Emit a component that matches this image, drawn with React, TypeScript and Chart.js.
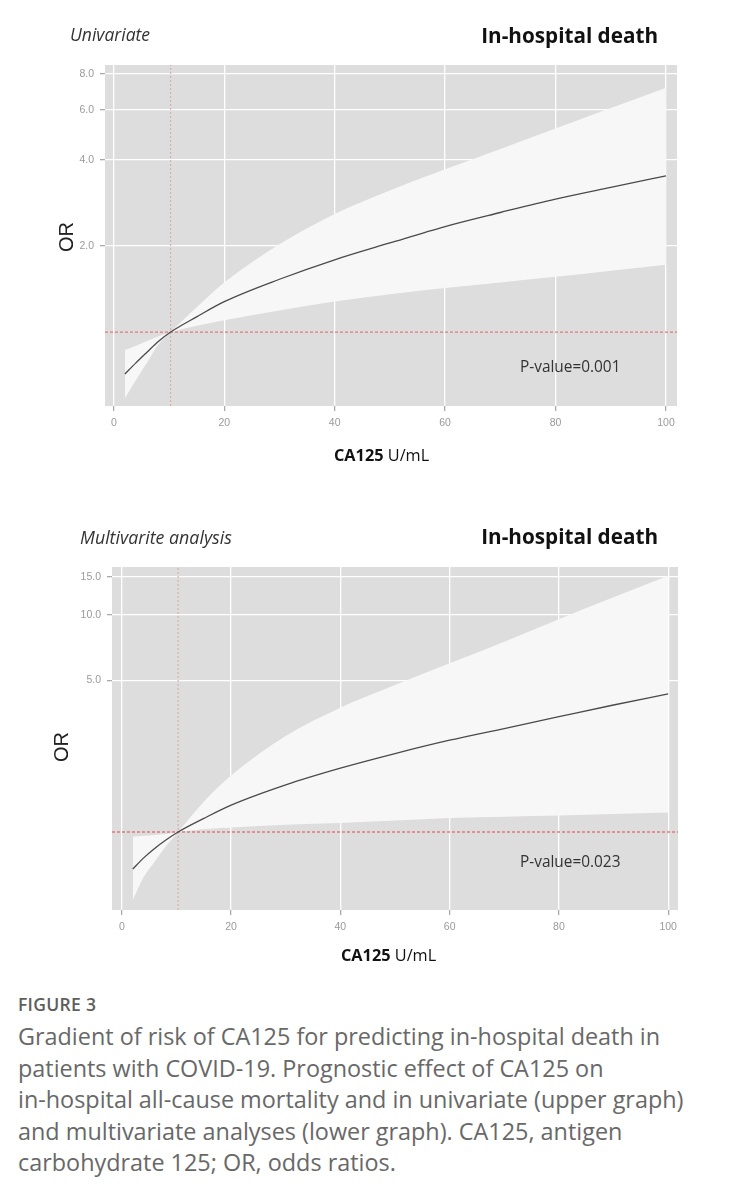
import React, { useEffect, useRef } from "react";
import { Chart, registerables } from "chart.js";

Chart.register(...registerables);

// ---- data ----
const ca125 = [2, 4, 6, 8, 10.3, 15, 20, 30, 40, 50, 60, 70, 80, 90, 100];

const uniOR = [0.713, 0.78, 0.85, 0.925, 1.0, 1.13, 1.277, 1.53, 1.79, 2.05, 2.34, 2.62, 2.92, 3.21, 3.52];
const uniUpper = [0.865, 0.895, 0.93, 0.965, 1.0, 1.22, 1.49, 2.03, 2.59, 3.13, 3.71, 4.37, 5.16, 6.08, 7.16];
const uniLower = [0.587, 0.68, 0.78, 0.9, 1.0, 1.051, 1.1, 1.19, 1.278, 1.357, 1.426, 1.492, 1.56, 1.64, 1.72];

const multiOR = [0.675, 0.76, 0.84, 0.916, 1.0, 1.155, 1.33, 1.65, 1.97, 2.3, 2.65, 3.0, 3.4, 3.85, 4.33];
const multiUpper = [0.95, 0.96, 0.97, 0.98, 1.0, 1.38, 1.82, 2.77, 3.74, 4.76, 5.99, 7.54, 9.58, 12.07, 15.18];
const multiLower = [0.486, 0.62, 0.73, 0.855, 1.0, 1.03, 1.05, 1.08, 1.1, 1.13, 1.16, 1.175, 1.19, 1.21, 1.23];

const xTicks = [0, 20, 40, 60, 80, 100];
const uniYTicks = [2, 4, 6, 8];
const multiYTicks = [5, 10, 15];

const REF_CA125 = 10.3;
const REF_OR = 1;

const TITLE_LEFT_UNI = "Univariate";
const TITLE_LEFT_MULTI = "Multivarite analysis";
const TITLE_RIGHT = "In-hospital death";
const P_UNI = "P-value=0.001";
const P_MULTI = "P-value=0.023";

const W = 732;
const XAXIS_H = 30;

const panelBg = {
  id: "panelBg",
  beforeDraw(chart: any) {
    const { ctx, chartArea: a } = chart;
    ctx.save();
    ctx.fillStyle = "#dddddd";
    ctx.fillRect(a.left, a.top, a.right - a.left, a.bottom - a.top);
    ctx.restore();
  },
};

type Props = {
  or: number[];
  upper: number[];
  lower: number[];
  yTicks: number[];
  yMin: number;
  yMax: number;
  xMin: number;
  xMax: number;
  area: { left: number; top: number; right: number; bottom: number };
  height: number;
  top: number;
};

function SplineChart(p: Props) {
  const ref = useRef<HTMLCanvasElement | null>(null);
  useEffect(() => {
    if (!ref.current) return;
    const pts = (ys: number[]) => ca125.map((x, i) => ({ x, y: ys[i] }));
    // the confidence band pinches at the reference value: draw it in two pieces
    const k = ca125.indexOf(REF_CA125);
    const pre = (ys: number[]) => pts(ys).slice(0, k + 1);
    const post = (ys: number[]) => pts(ys).slice(k);
    const band = (data: any[], fill: any, order: number) => ({
      data,
      borderWidth: 0,
      pointRadius: 0,
      backgroundColor: "#f7f7f7",
      fill,
      cubicInterpolationMode: "monotone",
      order,
    });
    const tickFont = { family: "'Liberation Sans', Arial, sans-serif", size: 10.5 };
    const chart = new Chart(ref.current, {
      type: "line",
      data: {
        datasets: [
          band(pre(p.upper), "+1", 6),
          band(pre(p.lower), false, 6),
          band(post(p.upper), "+1", 5),
          band(post(p.lower), false, 5),
          {
            data: [
              { x: REF_CA125, y: p.yMin },
              { x: REF_CA125, y: p.yMax },
            ],
            borderColor: "#dba3a3",
            borderWidth: 1,
            borderDash: [2, 2],
            pointRadius: 0,
            fill: false,
            order: 3,
          },
          {
            data: [
              { x: p.xMin, y: REF_OR },
              { x: p.xMax, y: REF_OR },
            ],
            borderColor: "#e07a7a",
            borderWidth: 1.3,
            borderDash: [3, 2],
            pointRadius: 0,
            fill: false,
            order: 2,
          },
          {
            data: pts(p.or),
            borderColor: "#4a4a4a",
            borderWidth: 1.3,
            pointRadius: 0,
            fill: false,
            cubicInterpolationMode: "monotone",
            order: 1,
          },
        ] as any,
      },
      options: {
        responsive: false,
        animation: false,
        layout: {
          padding: {
            left: 0,
            top: p.area.top,
            right: W - p.area.right,
            bottom: p.height - p.area.bottom - XAXIS_H,
          },
        },
        plugins: {
          legend: { display: false },
          tooltip: { enabled: false },
        },
        scales: {
          x: {
            type: "linear",
            min: p.xMin,
            max: p.xMax,
            afterBuildTicks: (s: any) => {
              s.ticks = xTicks.map((v) => ({ value: v }));
            },
            afterFit: (s: any) => {
              s.height = XAXIS_H;
            },
            grid: { color: "#ffffff", lineWidth: 1.3, tickColor: "#aaaaaa", tickLength: 5 },
            border: { display: false },
            ticks: {
              color: "#9a9a9a",
              font: tickFont,
              padding: 6,
              maxRotation: 0,
              autoSkip: false,
              callback: (v: any) => String(v),
            },
          },
          y: {
            type: "logarithmic",
            min: p.yMin,
            max: p.yMax,
            afterBuildTicks: (s: any) => {
              s.ticks = p.yTicks.map((v) => ({ value: v }));
            },
            afterFit: (s: any) => {
              s.width = p.area.left;
            },
            grid: { color: "#ffffff", lineWidth: 1.3, tickColor: "#aaaaaa", tickLength: 5 },
            border: { display: false },
            ticks: {
              color: "#9a9a9a",
              font: tickFont,
              padding: 6,
              autoSkip: false,
              callback: (v: any) => Number(v).toFixed(1),
            },
          },
        },
      } as any,
      plugins: [panelBg],
    });
    return () => chart.destroy();
  }, []);
  return (
    <canvas
      ref={ref}
      width={W}
      height={p.height}
      style={{ position: "absolute", left: 0, top: p.top, width: W, height: p.height, display: "block" }}
    />
  );
}

const cal = "'Open Sans', 'Noto Sans', sans-serif";

function Txt(props: { x: number; y: number; children: any; style?: any; anchor?: "left" | "right" | "center" }) {
  const a = props.anchor || "left";
  const tx = a === "left" ? "0" : a === "right" ? "-100%" : "-50%";
  return (
    <div
      style={{
        position: "absolute",
        left: props.x,
        top: props.y,
        transform: `translate(${tx}, -50%)`,
        whiteSpace: "nowrap",
        lineHeight: 1,
        fontFamily: cal,
        ...props.style,
      }}
    >
      {props.children}
    </div>
  );
}

export default function App() {
  return (
    <div style={{ position: "absolute", left: 0, top: 0, width: W, height: 1200, background: "#fff", overflow: "hidden" }}>
      <SplineChart
        or={uniOR}
        upper={uniUpper}
        lower={uniLower}
        yTicks={uniYTicks}
        yMin={0.551}
        yMax={8.6}
        xMin={-1.6}
        xMax={102}
        area={{ left: 105, top: 65, right: 677, bottom: 406 }}
        height={480}
        top={0}
      />
      <SplineChart
        or={multiOR}
        upper={multiUpper}
        lower={multiLower}
        yTicks={multiYTicks}
        yMin={0.437}
        yMax={16.66}
        xMin={-1.8}
        xMax={101.8}
        area={{ left: 112, top: 67, right: 678, bottom: 410 }}
        height={480}
        top={500}
      />

      {/* upper graph texts */}
      <Txt x={70} y={35} style={{ fontStyle: "italic", fontSize: 17.5, color: "#333" }}>{TITLE_LEFT_UNI}</Txt>
      <Txt x={658} y={35} anchor="right" style={{ fontWeight: 700, fontSize: 20.7, color: "#111" }}>{TITLE_RIGHT}</Txt>
      <Txt x={66} y={237} anchor="center" style={{ fontFamily: "'Liberation Sans', Arial, sans-serif", fontSize: 20, color: "#222", transform: "translate(-50%, -50%) rotate(-90deg)" }}>OR</Txt>
      <Txt x={334} y={455} style={{ fontSize: 16.3, color: "#111" }}><b>CA125</b> U/mL</Txt>
      <Txt x={520} y={367} style={{ fontSize: 15.4, color: "#333" }}>{P_UNI}</Txt>

      {/* lower graph texts */}
      <Txt x={80} y={538} style={{ fontStyle: "italic", fontSize: 17.8, color: "#333" }}>{TITLE_LEFT_MULTI}</Txt>
      <Txt x={658} y={536} anchor="right" style={{ fontWeight: 700, fontSize: 20.7, color: "#111" }}>{TITLE_RIGHT}</Txt>
      <Txt x={61} y={747} anchor="center" style={{ fontFamily: "'Liberation Sans', Arial, sans-serif", fontSize: 20, color: "#222", transform: "translate(-50%, -50%) rotate(-90deg)" }}>OR</Txt>
      <Txt x={341} y={955} style={{ fontSize: 16.3, color: "#111" }}><b>CA125</b> U/mL</Txt>
      <Txt x={520} y={862} style={{ fontSize: 15.4, color: "#333" }}>{P_MULTI}</Txt>

      {/* caption */}
      <Txt x={18} y={1005} style={{ fontSize: 17.5, fontWeight: 600, color: "#5e5e5e", letterSpacing: 0.3 }}>FIGURE 3</Txt>
      <div
        style={{
          position: "absolute",
          left: 18,
          top: 1021,
          fontFamily: cal,
          fontSize: 23.4,
          lineHeight: "31.5px",
          color: "#686868",
          whiteSpace: "nowrap",
        }}
      >
        Gradient of risk of CA125 for predicting in-hospital death in
        <br />
        patients with COVID-19. Prognostic effect of CA125 on
        <br />
        in-hospital all-cause mortality and in univariate (upper graph)
        <br />
        and multivariate analyses (lower graph). CA125, antigen
        <br />
        carbohydrate 125; OR, odds ratios.
      </div>
    </div>
  );
}
